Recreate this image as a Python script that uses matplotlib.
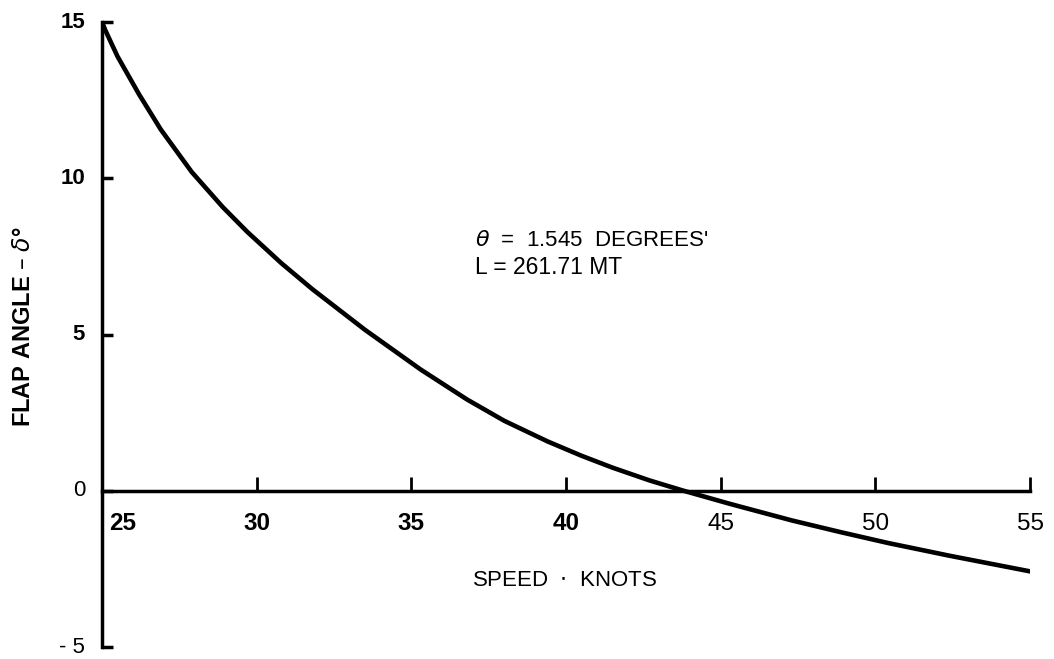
import matplotlib.pyplot as plt

# valores
speed = [25.0, 25.1, 25.5, 26.2, 26.9, 27.9, 28.9, 29.7, 30.8, 31.8, 33.5,
         35.3, 36.8, 38.0, 39.4, 40.5, 41.5, 42.7, 43.8, 45.3, 47.3, 48.9,
         50.4, 52.4, 55.0]
flap = [15.0, 14.75, 13.9, 12.68, 11.56, 10.2, 9.08, 8.28, 7.28, 6.45, 5.15,
        3.88, 2.92, 2.24, 1.58, 1.12, 0.74, 0.33, 0.0, -0.42, -0.95, -1.33,
        -1.67, -2.08, -2.58]

x_ticks = [30, 35, 40, 45, 50, 55]
x_labels = ["25", "30", "35", "40", "45", "50", "55"]
x_label_pos = [25.68, 30, 35, 40, 45, 50, 55]
x_bold = [True, True, True, True, False, False, False]
y_ticks = [15, 10, 5, 0, -5]
y_labels = ["15", "10", "5", "0", "- 5"]
y_bold = [True, True, True, False, False]

plt.rcParams["font.family"] = ["Liberation Sans", "DejaVu Sans"]

fig = plt.figure(figsize=(10.54, 6.59), dpi=100)
ax = fig.add_axes([0.0968, 0.0182, 0.8805, 0.9484])
ax.set_xlim(25, 55)
ax.set_ylim(-5, 15)

ax.plot(speed, flap, color="black", lw=3.3, solid_capstyle="round",
        solid_joinstyle="round")

# ejes: vertical en x=25, horizontal en y=0
for s in ["top", "right"]:
    ax.spines[s].set_visible(False)
ax.spines["left"].set_linewidth(2.5)
ax.spines["bottom"].set_position(("data", 0))
ax.spines["bottom"].set_linewidth(2.5)
ax.spines["bottom"].set_bounds(25, 55)

ax.set_xticks(x_ticks)
ax.set_xticklabels([])
ax.tick_params(axis="x", direction="in", length=10, width=2)
ax.set_yticks(y_ticks)
ax.set_yticklabels([])
ax.tick_params(axis="y", direction="in", length=8, width=2.5)

for xp, lab, b in zip(x_label_pos, x_labels, x_bold):
    ax.text(xp, -1.05, lab, ha="center", va="center", fontsize=17.5,
            fontweight="bold" if b else "normal")
for yp, lab, b in zip(y_ticks, y_labels, y_bold):
    ax.text(24.45, yp, lab, ha="right", va="center", fontsize=16,
            fontweight="bold" if b else "normal")

fig.text(24 / 1054, 1 - 327 / 659, "FLAP ANGLE – $\\delta$°", rotation=90,
         ha="center", va="center", fontsize=17, fontweight="bold")
fig.text(564 / 1054, 1 - 580 / 659, "SPEED  $\\cdot$  KNOTS", ha="center",
         va="center", fontsize=16)

fig.text(475 / 1054, 1 - 241 / 659, "$\\theta$  =  1.545  DEGREES'",
         ha="left", va="center", fontsize=16)
fig.text(475 / 1054, 1 - 268 / 659, "L = 261.71 MT",
         ha="left", va="center", fontsize=16.5)

fig.savefig("out.png", dpi=100)
